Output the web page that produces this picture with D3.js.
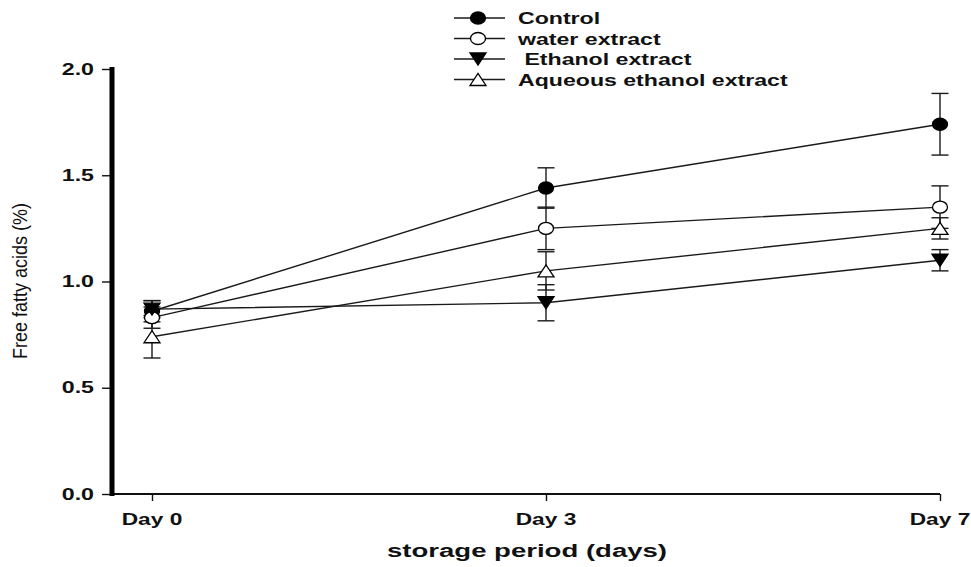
<!DOCTYPE html>
<html lang="en">
<head>
  <meta charset="UTF-8" />
  <title>Free fatty acids</title>
  <script src="https://d3js.org/d3.v7.min.js"></script>
  <style>
    body { margin: 0; background: #fff; }
    svg { display: block; font-family: "Liberation Sans", Arial, sans-serif; }
  </style>
</head>
<body>
<svg id="chart" width="971" height="567"></svg>
<script>
// == DATA ==
const days = ["Day 0", "Day 3", "Day 7"];
const yTicks = [0, 0.5, 1.0, 1.5, 2.0];
const seriesNames = ["Control", "water extract", " Ethanol extract", "Aqueous ethanol extract"];
const seriesMarkers = ["circleFilled", "circleOpen", "triDown", "triUp"];
const controlVals = [0.86, 1.44, 1.74];
const controlErr = [0.05, 0.095, 0.145];
const waterVals = [0.83, 1.25, 1.35];
const waterErr = [0.05, 0.10, 0.10];
const ethanolVals = [0.87, 0.90, 1.10];
const ethanolErr = [0.04, 0.085, 0.05];
const aqueousVals = [0.74, 1.05, 1.25];
const aqueousErr = [0.10, 0.09, 0.05];

const series = [
  { name: seriesNames[0], marker: seriesMarkers[0], vals: controlVals, err: controlErr },
  { name: seriesNames[1], marker: seriesMarkers[1], vals: waterVals, err: waterErr },
  { name: seriesNames[2], marker: seriesMarkers[2], vals: ethanolVals, err: ethanolErr },
  { name: seriesNames[3], marker: seriesMarkers[3], vals: aqueousVals, err: aqueousErr }
];

const svg = d3.select("#chart");

const x = d3.scalePoint().domain(days).range([152, 940]);
const y = d3.scaleLinear().domain([0, 2]).range([494, 69]);

// the picture's lettering is wider than plain Arial, so stretch it sideways
function wideText(parent, tx, ty, str, size, anchor, stretch) {
  return parent.append("text")
    .attr("transform", `translate(${tx},${ty}) scale(${stretch},1)`)
    .attr("text-anchor", anchor)
    .attr("font-size", size)
    .attr("font-weight", "bold")
    .attr("fill", "#111")
    .style("white-space", "pre")
    .text(str);
}

function drawMarker(g, type, cx, cy) {
  if (type === "circleFilled" || type === "circleOpen") {
    g.append("ellipse")
      .attr("cx", cx).attr("cy", cy).attr("rx", 7.5).attr("ry", 6)
      .attr("fill", type === "circleFilled" ? "#000" : "#fff")
      .attr("stroke", "#000").attr("stroke-width", 1.3);
  } else {
    const w = 8, h = 6;
    const pts = type === "triDown"
      ? [[cx - w, cy - h], [cx + w, cy - h], [cx, cy + h]]
      : [[cx - w, cy + h], [cx + w, cy + h], [cx, cy - h]];
    g.append("path")
      .attr("d", d3.line()(pts) + "Z")
      .attr("fill", type === "triDown" ? "#000" : "#fff")
      .attr("stroke", "#000").attr("stroke-width", 1.3);
  }
}

// == AXES ==
const yAxis = d3.axisLeft(y).tickValues(yTicks).tickSize(10).tickPadding(0).tickFormat("");
const yG = svg.append("g").attr("transform", "translate(112,0)").call(yAxis);
yG.select(".domain").remove();
yG.selectAll(".tick line").attr("stroke", "#111").attr("stroke-width", 1.4);
yTicks.forEach(t => wideText(svg, 94, y(t) + 5.5, d3.format(".1f")(t), 16, "end", 1.45));

const xAxis = d3.axisBottom(x).tickSize(7).tickFormat("");
const xG = svg.append("g").attr("transform", `translate(0,${y(0)})`).call(xAxis);
xG.select(".domain").remove();
xG.selectAll(".tick line").attr("stroke", "#111").attr("stroke-width", 1.4);
svg.append("line")
  .attr("x1", 112).attr("x2", x("Day 7"))
  .attr("y1", y(0)).attr("y2", y(0))
  .attr("stroke", "#111").attr("stroke-width", 2);
svg.append("line")
  .attr("x1", 112).attr("x2", 112)
  .attr("y1", 67).attr("y2", y(0) + 2)
  .attr("stroke", "#000").attr("stroke-width", 5);
days.forEach(d => wideText(svg, x(d), 525, d, 16, "middle", 1.42));

wideText(svg, 527, 557, "storage period (days)", 19, "middle", 1.45);
svg.append("text")
  .attr("transform", `translate(27,281) rotate(-90) scale(1,1.15)`)
  .attr("text-anchor", "middle")
  .attr("font-size", 18)
  .attr("fill", "#111")
  .text("Free fatty acids (%)");

// == DATA MARKS ==
const plot = svg.append("g");
const line = d3.line().x((d, i) => x(days[i])).y(d => y(d));
series.forEach(s => {
  plot.append("path")
    .attr("d", line(s.vals))
    .attr("fill", "none")
    .attr("stroke", "#1a1a1a")
    .attr("stroke-width", 1.4);
});
series.forEach(s => {
  s.vals.forEach((v, i) => {
    const cx = x(days[i]);
    const lo = y(v - s.err[i]), hi = y(v + s.err[i]);
    plot.append("line").attr("x1", cx).attr("x2", cx).attr("y1", lo).attr("y2", hi)
      .attr("stroke", "#1a1a1a").attr("stroke-width", 1.4);
    [lo, hi].forEach(yy => plot.append("line")
      .attr("x1", cx - 8.5).attr("x2", cx + 8.5).attr("y1", yy).attr("y2", yy)
      .attr("stroke", "#1a1a1a").attr("stroke-width", 1.4));
  });
});
series.forEach(s => {
  s.vals.forEach((v, i) => drawMarker(plot, s.marker, x(days[i]), y(v)));
});

// == LEGEND ==
const legend = svg.append("g");
series.forEach((s, i) => {
  const ly = 18 + i * 20.5;
  legend.append("line").attr("x1", 454).attr("x2", 505).attr("y1", ly).attr("y2", ly)
    .attr("stroke", "#1a1a1a").attr("stroke-width", 1.4);
  drawMarker(legend, s.marker, 478, ly);
  wideText(legend, 518, ly + 6, s.name, 17, "start", 1.36);
});
</script>
</body>
</html>
